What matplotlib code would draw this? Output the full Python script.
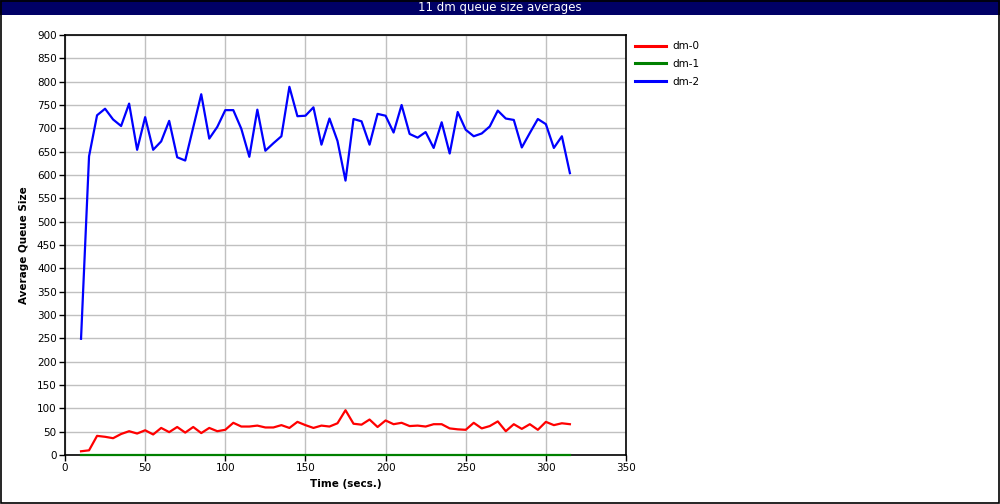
import numpy as np
import matplotlib
matplotlib.use("Agg")
import matplotlib.pyplot as plt
from matplotlib.patches import Rectangle

# time axis: every 5 secs from 10 to 315
time_secs = list(range(10, 320, 5))

dm0 = [8, 10, 41, 39, 36, 45, 51, 46, 53, 44, 58, 49, 60, 48, 60, 47, 58, 51, 54, 69,
       61, 61, 63, 59, 59, 64, 58, 71, 64, 58, 63, 61, 68, 96, 67, 65, 76, 60, 74, 66,
       69, 62, 63, 61, 66, 66, 57, 55, 54, 69, 57, 62, 72, 51, 66, 56, 66, 54, 71, 64,
       68, 66]
dm1 = [1] * len(time_secs)
dm2 = [249, 640, 728, 742, 719, 705, 753, 654, 724, 654, 672, 716, 638, 631, 702, 773,
       678, 703, 739, 739, 699, 639, 740, 652, 668, 683, 789, 726, 727, 745, 665, 721,
       673, 588, 720, 715, 665, 731, 727, 691, 750, 688, 680, 692, 658, 713, 646, 735,
       697, 683, 689, 704, 738, 721, 718, 659, 690, 720, 709, 658, 683, 604]

series_names = ["dm-0", "dm-1", "dm-2"]
series_colors = ["#ff0000", "#008000", "#0000ff"]

fig = plt.figure(figsize=(10, 5.04), dpi=100)
fig.patch.set_facecolor("white")

# title bar and outer border
fig.patches.append(Rectangle((0, 1 - 15 / 504), 1, 15 / 504, transform=fig.transFigure,
                             facecolor="#000066", edgecolor="none", zorder=0))
fig.patches.append(Rectangle((0.0005, 0.001), 0.998, 0.997, transform=fig.transFigure,
                             facecolor="none", edgecolor="black", linewidth=1.2, zorder=5))
fig.text(0.5, 1 - 7.5 / 504, "11 dm queue size averages", color="white",
         ha="center", va="center", fontsize=8.5, family="DejaVu Sans")

ax = fig.add_axes([65 / 1000, 49 / 504, 561 / 1000, 420 / 504])
for vals, name, col in zip([dm0, dm1, dm2], series_names, series_colors):
    ax.plot(time_secs, vals, color=col, linewidth=1.6, label=name, clip_on=False, zorder=3)

ax.set_xlim(0, 350)
ax.set_ylim(0, 900)
ax.set_xticks(np.arange(0, 351, 50))
ax.set_yticks(np.arange(0, 901, 50))
ax.grid(True, color="#c0c0c0", linewidth=1)
ax.set_axisbelow(True)
ax.tick_params(direction="out", length=4, width=1, labelsize=7.5, pad=2)
for s in ax.spines.values():
    s.set_linewidth(1.2)
ax.set_xlabel("Time (secs.)", fontsize=7.5, fontweight="bold", labelpad=4)
ax.set_ylabel("Average Queue Size", fontsize=7.5, fontweight="bold", labelpad=6)

leg = ax.legend(loc="upper left", bbox_to_anchor=(1.005, 1.0), frameon=False,
                fontsize=7.5, handlelength=3.0, handletextpad=0.6, labelspacing=0.75,
                borderaxespad=0.2)
for line in leg.get_lines():
    line.set_linewidth(2.2)

plt.savefig("out.png", dpi=100)
